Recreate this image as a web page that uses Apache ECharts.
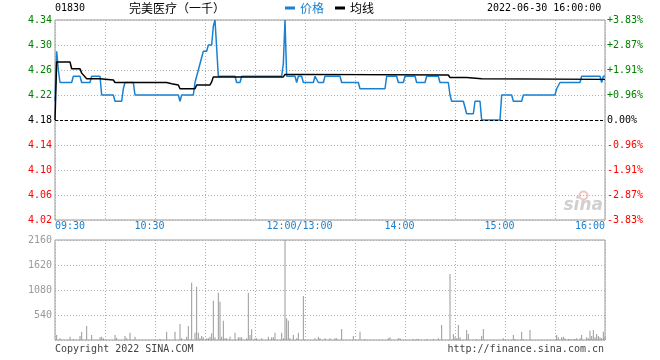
<!DOCTYPE html>
<html><head><meta charset="utf-8">
<script src="https://cdn.jsdelivr.net/npm/echarts@6/dist/echarts.min.js"></script>
<style>html,body{margin:0;padding:0;background:#fff}#c{width:660px;height:360px}</style>
</head><body><div id="c"></div>
<script>
// ---- data ----
const stockCode = '01830';
const stockName = '完美医疗（一千）';
const dateText = '2022-06-30 16:00:00';
const preClose = 4.18;
const priceMin = 4.02, priceMax = 4.34, priceStep = 0.04;
const timeTickMinutes = [0, 60, 150, 210, 270, 330];
const timeTickLabels = ['09:30', '10:30', '12:00/13:00', '14:00', '15:00', '16:00'];
const volumeMax = 2160, volumeStep = 540;

// price line: minute offset from 09:30 (lunch removed) and price
const priceMinutes = [0,1,2,3,10,11,15,16,21,22,27,28,35,36,40,41,42,47,48,74,75,76,83,84,85,86,87,88,89,91,92,94,95,96,97,98,108,109,111,112,136,137,138,139,144,145,146,148,149,155,156,157,158,161,162,171,172,182,183,198,199,205,206,209,210,216,217,222,223,230,231,236,237,238,245,246,247,251,252,255,256,267,268,274,275,280,281,300,301,302,303,315,316,327,328,329,330];
const priceValues  = [4.21,4.29,4.26,4.24,4.24,4.25,4.25,4.24,4.24,4.25,4.25,4.22,4.22,4.21,4.21,4.23,4.24,4.24,4.22,4.22,4.21,4.22,4.22,4.24,4.25,4.26,4.27,4.28,4.29,4.29,4.30,4.30,4.33,4.34,4.34,4.25,4.25,4.24,4.24,4.25,4.25,4.27,4.34,4.25,4.25,4.24,4.25,4.25,4.24,4.24,4.25,4.25,4.24,4.24,4.25,4.25,4.24,4.24,4.23,4.23,4.25,4.25,4.24,4.24,4.25,4.25,4.24,4.24,4.25,4.25,4.24,4.24,4.22,4.21,4.21,4.20,4.19,4.19,4.21,4.21,4.18,4.18,4.22,4.22,4.21,4.21,4.22,4.22,4.23,4.23,4.24,4.24,4.25,4.25,4.24,4.25,4.25];

// average line
const avgMinutes = [0,1,9,10,15,16,17,19,27,28,35,36,67,70,74,75,84,85,93,94,95,137,138,148,149,236,237,247,248,256,257,330];
const avgValues  = [4.18,4.273,4.273,4.262,4.262,4.255,4.252,4.246,4.246,4.244,4.244,4.240,4.240,4.238,4.236,4.230,4.230,4.236,4.236,4.241,4.249,4.249,4.253,4.253,4.252,4.252,4.248,4.248,4.246,4.246,4.245,4.245];

// volume bars
const volMinutes = [1,3,9,11,15,16,19,22,27,28,29,36,37,42,43,45,48,63,67,72,75,76,79,80,82,84,85,86,87,88,89,91,92,93,94,95,96,98,99,100,101,102,103,105,108,110,111,112,115,116,117,118,120,121,124,128,130,131,132,136,137,138,139,140,141,143,145,146,149,156,158,159,162,165,168,169,172,179,183,186,200,201,206,207,215,217,218,223,227,230,232,237,239,240,241,242,243,247,248,253,256,257,269,275,276,280,281,285,301,302,304,305,306,308,309,311,312,313,315,316,319,320,321,322,323,324,325,326,327,328,329,330];
const volValues  = [108,36,72,22,86,180,302,108,58,72,36,108,50,86,36,158,72,22,180,180,346,36,72,302,1238,158,1152,158,36,86,58,36,36,72,144,850,58,1022,828,72,418,36,36,72,158,58,58,58,36,1022,108,230,36,36,36,72,58,58,158,158,36,2160,468,418,36,108,36,158,950,36,72,36,36,36,36,36,238,86,180,22,36,58,36,36,22,22,22,22,22,36,324,1426,130,72,36,324,58,216,130,22,86,238,36,108,22,180,22,216,108,58,58,72,36,22,22,22,22,36,36,108,58,36,202,86,216,58,130,86,58,36,180,72];

// ---- chart ----
const BLUE = '#1a80d0';
const MONO = '"DejaVu Sans Mono", monospace';
const CJK = '"Noto Sans CJK SC", sans-serif';
const toY = p => +((p - priceMin) * 100).toFixed(4);
const yTop = toY(priceMax), yStep = +(priceStep * 100).toFixed(4), yPre = toY(preClose);

const priceData = priceMinutes.map((m, i) => [m, toY(priceValues[i])]);
const avgData = avgMinutes.map((m, i) => [m, toY(avgValues[i])]);
const volData = volMinutes.map((m, i) => [m, volValues[i]]);

function priceColor(v) {
  v = Math.round(v * 1000) / 1000;
  return v > yPre ? '#008000' : (v < yPre ? '#ff0000' : '#000');
}
const dotted = { color: '#b0b0b0', type: [1, 2], width: 1 };

const chart = echarts.init(document.getElementById('c'), null, { renderer: 'canvas' });
chart.setOption({
  animation: false,
  backgroundColor: '#fff',
  title: [
    { text: stockCode, left: 55, top: 3, padding: 0, textStyle: { fontFamily: MONO, fontSize: 10, fontWeight: 'normal', color: '#000' } },
    { text: stockName, left: 129, top: 2, padding: 0, textStyle: { fontFamily: CJK, fontSize: 12, fontWeight: 'normal', color: '#000' } },
    { text: dateText, left: 487, top: 3, padding: 0, textStyle: { fontFamily: MONO, fontSize: 10, fontWeight: 'normal', color: '#000' } },
    { text: 'Copyright 2022 SINA.COM', left: 55, top: 344, padding: 0, textStyle: { fontFamily: MONO, fontSize: 10, fontWeight: 'normal', color: '#444' } },
    { text: 'http://finance.sina.com.cn', right: 56, top: 344, padding: 0, textStyle: { fontFamily: MONO, fontSize: 10, fontWeight: 'normal', color: '#444' } }
  ],
  legend: {
    left: 285, top: 2, padding: 0, icon: 'rect', itemWidth: 10, itemHeight: 3, itemGap: 11,
    selectedMode: false,
    textStyle: { fontFamily: CJK, fontSize: 12 },
    data: [{ name: '价格', textStyle: { color: BLUE } }, { name: '均线', textStyle: { color: '#000' } }]
  },
  graphic: [
    { type: 'text', right: 57, top: 197, z: 0, style: { text: 'sina', font: 'italic bold 17px "DejaVu Sans"', fill: '#d0d0d0' } },
    { type: 'circle', left: 577, top: 189, z: 0, shape: { r: 4 }, style: { fill: 'none', stroke: '#f2c4c4', lineWidth: 2 } }
  ],
  grid: [
    { left: 55, top: 20, width: 550, height: 200, show: true, borderColor: '#999', borderWidth: 1, backgroundColor: 'transparent' },
    { left: 55, top: 240, width: 550, height: 100, show: true, borderColor: '#999', borderWidth: 1, backgroundColor: 'transparent' }
  ],
  xAxis: [
    {
      type: 'value', gridIndex: 0, min: 0, max: 330, interval: 30,
      axisLine: { show: false }, axisTick: { show: false },
      splitLine: { show: true, lineStyle: dotted },
      axisLabel: {
        show: true, margin: 1, color: BLUE, fontFamily: MONO, fontSize: 10,
        alignMinLabel: 'left', alignMaxLabel: 'right', hideOverlap: false,
        formatter: v => {
          const i = timeTickMinutes.indexOf(v);
          if (i < 0) return '';
          if (v === 0 || v === 330) return timeTickLabels[i];
          return '{c|' + timeTickLabels[i] + '}';
        },
        rich: { c: { color: BLUE, fontFamily: MONO, fontSize: 10, padding: [0, 11, 0, 0] } }
      }
    },
    {
      type: 'value', gridIndex: 1, min: 0, max: 330, interval: 30,
      axisLine: { show: false }, axisTick: { show: false }, axisLabel: { show: false },
      splitLine: { show: true, lineStyle: dotted }
    }
  ],
  yAxis: [
    {
      type: 'value', gridIndex: 0, min: 0, max: yTop, interval: yStep, position: 'left',
      axisLine: { show: false }, axisTick: { show: false },
      splitLine: { show: true, lineStyle: dotted },
      axisLabel: {
        margin: 3, fontFamily: MONO, fontSize: 10, padding: [0, 0, 6, 0],
        color: v => priceColor(v),
        formatter: v => ((v / 100) + priceMin).toFixed(2)
      }
    },
    {
      type: 'value', gridIndex: 0, min: 0, max: yTop, interval: yStep, position: 'right',
      axisLine: { show: false }, axisTick: { show: false }, splitLine: { show: false },
      axisLabel: {
        margin: 2, fontFamily: MONO, fontSize: 10, padding: [0, 0, 6, 0],
        color: v => priceColor(v),
        formatter: v => {
          const p = (v / 100) + priceMin;
          const pct = (p / preClose - 1) * 100;
          const s = Math.abs(pct).toFixed(2) + '%';
          if (Math.abs(pct) < 0.005) return '0.00%';
          return (pct > 0 ? '+' : '-') + s;
        }
      }
    },
    {
      type: 'value', gridIndex: 1, min: 0, max: volumeMax, interval: volumeStep,
      axisLine: { show: false }, axisTick: { show: false },
      splitLine: { show: true, lineStyle: dotted },
      axisLabel: {
        margin: 3, fontFamily: MONO, fontSize: 10, color: '#999', padding: [0, 0, 6, 0],
        formatter: v => v === 0 ? '' : String(v)
      }
    }
  ],
  series: [
    {
      name: '价格', type: 'line', xAxisIndex: 0, yAxisIndex: 0, data: priceData,
      showSymbol: false, symbol: 'none', z: 3,
      itemStyle: { color: BLUE }, lineStyle: { color: BLUE, width: 1.5 },
      markLine: {
        silent: true, symbol: 'none', label: { show: false },
        lineStyle: { color: '#000', type: [3, 2], width: 1 },
        data: [{ yAxis: yPre }]
      }
    },
    {
      name: '均线', type: 'line', xAxisIndex: 0, yAxisIndex: 0, data: avgData,
      showSymbol: false, symbol: 'none', z: 4,
      itemStyle: { color: '#000' }, lineStyle: { color: '#000', width: 1.5 }
    },
    {
      name: '成交量', type: 'bar', xAxisIndex: 1, yAxisIndex: 2, data: volData,
      barWidth: 1, itemStyle: { color: '#999' }
    }
  ]
});
</script>
</body></html>
